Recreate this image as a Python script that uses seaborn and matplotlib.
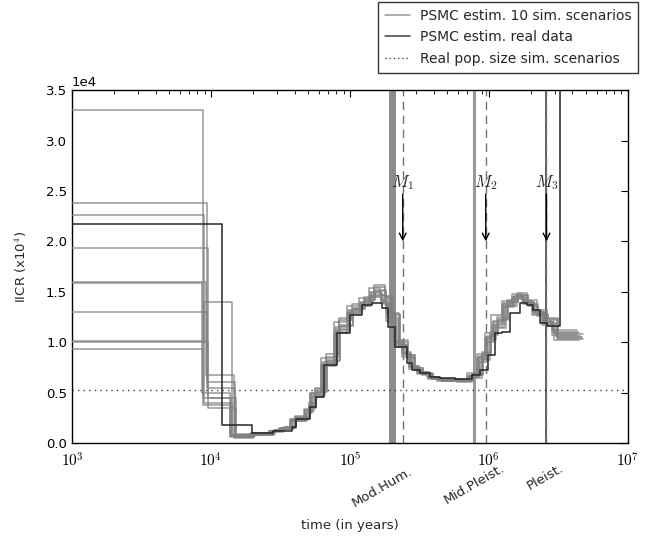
import numpy as np
import pandas as pd
import matplotlib
matplotlib.use("Agg")
import matplotlib.pyplot as plt
import seaborn as sns
from matplotlib.ticker import MultipleLocator, LogLocator, FuncFormatter, NullFormatter
from matplotlib.lines import Line2D
import matplotlib.transforms as mtransforms

# ---------------- data (IICR in units of 1e4) ----------------
sim_edges = [1000, 9057, 14390, 19720, 27470, 32420, 38900, 49100, 54200, 65000,
             80600, 100000, 122000, 144000, 173000, 191000, 218000, 249000, 279000,
             319000, 377000, 444000, 569000, 730000, 861000, 984000, 1100000,
             1300000, 1540000, 1820000, 2140000, 2530000, 2990000, 4520000]

# per-simulation time rescaling (PSMC scaling differs slightly between runs)
sim_time_scale = [0.97, 1.04, 0.99, 1.06, 1.01, 0.95, 1.03, 0.98, 1.05, 0.96]

sim01 = [3.30, 0.45, 0.07, 0.09, 0.12, 0.15, 0.24, 0.33, 0.50, 0.80, 1.15, 1.32, 1.40, 1.50, 1.42, 1.25, 1.00, 0.88, 0.75, 0.69, 0.64, 0.62, 0.62, 0.66, 0.85, 1.05, 1.20, 1.38, 1.45, 1.38, 1.28, 1.20, 1.10]
sim02 = [2.38, 0.55, 0.06, 0.08, 0.13, 0.16, 0.26, 0.38, 0.55, 0.85, 1.24, 1.38, 1.45, 1.57, 1.45, 1.29, 0.97, 0.85, 0.72, 0.67, 0.63, 0.61, 0.61, 0.68, 0.90, 1.10, 1.25, 1.42, 1.49, 1.42, 1.32, 1.22, 1.05]
sim03 = [2.26, 0.40, 0.08, 0.10, 0.12, 0.14, 0.22, 0.30, 0.46, 0.76, 1.10, 1.28, 1.36, 1.45, 1.40, 1.20, 0.95, 0.90, 0.76, 0.70, 0.65, 0.63, 0.62, 0.65, 0.80, 1.00, 1.15, 1.35, 1.44, 1.40, 1.30, 1.18, 1.02]
sim04 = [1.93, 0.35, 0.09, 0.10, 0.13, 0.15, 0.25, 0.36, 0.52, 0.82, 1.17, 1.34, 1.42, 1.52, 1.44, 1.27, 1.02, 0.87, 0.74, 0.68, 0.63, 0.62, 0.61, 0.67, 0.87, 1.07, 1.22, 1.40, 1.47, 1.36, 1.27, 1.24, 1.08]
sim05 = [1.60, 0.67, 0.05, 0.08, 0.11, 0.14, 0.23, 0.32, 0.48, 0.78, 1.12, 1.30, 1.38, 1.47, 1.38, 1.22, 0.98, 0.86, 0.73, 0.69, 0.64, 0.62, 0.62, 0.66, 0.83, 1.03, 1.18, 1.37, 1.46, 1.39, 1.29, 1.19, 1.06]
sim06 = [1.59, 0.50, 0.07, 0.09, 0.12, 0.15, 0.24, 0.34, 0.50, 0.84, 1.20, 1.36, 1.44, 1.54, 1.47, 1.30, 0.99, 0.89, 0.75, 0.70, 0.65, 0.63, 0.63, 0.69, 0.88, 1.09, 1.27, 1.41, 1.48, 1.41, 1.31, 1.21, 1.12]
sim07 = [1.30, 0.60, 0.06, 0.09, 0.13, 0.16, 0.27, 0.40, 0.54, 0.88, 1.22, 1.33, 1.41, 1.55, 1.43, 1.24, 0.96, 0.84, 0.72, 0.68, 0.63, 0.61, 0.60, 0.64, 0.82, 1.02, 1.14, 1.36, 1.43, 1.37, 1.26, 1.16, 1.04]
sim08 = [1.01, 1.40, 0.08, 0.10, 0.12, 0.15, 0.22, 0.31, 0.47, 0.79, 1.13, 1.31, 1.39, 1.49, 1.41, 1.26, 1.01, 0.88, 0.76, 0.70, 0.65, 0.63, 0.62, 0.67, 0.86, 1.06, 1.21, 1.39, 1.46, 1.40, 1.30, 1.20, 1.09]
sim09 = [1.00, 0.45, 0.07, 0.09, 0.13, 0.15, 0.25, 0.35, 0.51, 0.81, 1.16, 1.33, 1.43, 1.51, 1.46, 1.28, 1.00, 0.87, 0.74, 0.69, 0.64, 0.62, 0.62, 0.68, 0.89, 1.08, 1.23, 1.40, 1.47, 1.38, 1.28, 1.23, 1.03]
sim10 = [0.93, 0.38, 0.06, 0.08, 0.12, 0.14, 0.23, 0.33, 0.49, 0.77, 1.09, 1.29, 1.37, 1.46, 1.39, 1.21, 0.97, 0.85, 0.73, 0.68, 0.63, 0.61, 0.61, 0.65, 0.84, 1.04, 1.17, 1.36, 1.45, 1.39, 1.27, 1.17, 1.07]

real_edges = [1000, 12000, 19720, 27930, 38270, 40900, 51500, 56900, 65000, 80600,
              100000, 122000, 144000, 170000, 187600, 210700, 257000, 279000, 319000,
              377000, 444000, 569000, 755000, 861000, 984000, 1104000, 1241000,
              1417000, 1672000, 1877000, 2073000, 2329000, 2613000, 3243000, 6300000]
real_iicr = [2.17, 0.18, 0.10, 0.12, 0.16, 0.24, 0.36, 0.46, 0.77, 1.09, 1.27, 1.37,
             1.39, 1.34, 1.15, 0.95, 0.79, 0.72, 0.69, 0.65, 0.64, 0.63, 0.67, 0.72,
             0.87, 1.09, 1.10, 1.29, 1.39, 1.37, 1.32, 1.19, 1.16, 5.00]

real_pop_size = 0.525  # x 1e4

event_times = [2.0e5, 7.8e5, 2.6e6]
event_labels = ["Mod.Hum.", "Mid.Pleist.", "Pleist."]
m_times = [2.4e5, 9.5e5, 2.6e6]
m_labels = ["$M_1$", "$M_2$", "$M_3$"]

# ---------------- build tables ----------------
sims = [sim01, sim02, sim03, sim04, sim05, sim06, sim07, sim08, sim09, sim10]
rows = []
for i, vals in enumerate(sims):
    ys = list(vals) + [vals[-1]]
    xs = [sim_edges[0]] + [t * sim_time_scale[i] for t in sim_edges[1:]]
    for t, v in zip(xs, ys):
        rows.append({"series": i, "time": t, "iicr": v * 1e4})
df_sim = pd.DataFrame(rows)
df_real = pd.DataFrame({"time": real_edges,
                        "iicr": [v * 1e4 for v in real_iicr + [real_iicr[-1]]]})

# ---------------- style ----------------
sns.set_theme(style="white")
plt.rcParams["font.family"] = ["DejaVu Sans"]
plt.rcParams["mathtext.fontset"] = "cm"
plt.rcParams["axes.edgecolor"] = "black"
plt.rcParams["axes.linewidth"] = 1.0

fig = plt.figure(figsize=(6.5, 5.42), dpi=100)
ax = fig.add_axes([0.1108, 0.1827, 0.855, 0.651])
ax.set_xscale("log")

# event lines
ax.axvline(event_times[0], color="0.55", lw=5, zorder=1)
ax.axvline(event_times[1], color="0.6", lw=2.2, zorder=1)
ax.axvline(event_times[2], color="0.25", lw=1.2, zorder=1)
for t in m_times:
    ax.axvline(t, color="0.45", lw=1.0, ls=(0, (6, 4)), zorder=1)

ax.axhline(real_pop_size * 1e4, color="0.25", lw=1.0, ls=(0, (1, 3)), zorder=2)

sns.lineplot(data=df_sim, x="time", y="iicr", units="series", estimator=None,
             sort=False, color="0.5", lw=1.1, alpha=0.8, drawstyle="steps-post",
             legend=False, ax=ax, zorder=3)
sns.lineplot(data=df_real, x="time", y="iicr", estimator=None, sort=False,
             color="0.15", lw=1.1, drawstyle="steps-post", legend=False, ax=ax,
             zorder=4)

ax.set_xlim(1e3, 1e7)
ax.set_ylim(0, 3.5e4)

# M annotations
for t, lab in zip(m_times, m_labels):
    ax.text(t, 2.58e4, lab, ha="center", va="center", fontsize=12)
    ax.annotate("", xy=(t, 2.0e4), xytext=(t, 2.47e4),
                arrowprops=dict(arrowstyle="->", color="black", lw=1.0,
                                shrinkA=0, shrinkB=0))

# ticks
ax.yaxis.set_major_locator(MultipleLocator(5000))
ax.ticklabel_format(axis="y", style="sci", scilimits=(0, 0))
ax.xaxis.set_major_locator(LogLocator(base=10, numticks=10))
ax.xaxis.set_minor_locator(LogLocator(base=10, subs=np.arange(2, 10), numticks=20))
ax.xaxis.set_major_formatter(FuncFormatter(lambda v, p: r"$10^{%d}$" % round(np.log10(v))))
ax.xaxis.set_minor_formatter(NullFormatter())
ax.tick_params(which="both", direction="in", top=True, right=True, colors="black",
               labelsize=9.5)
ax.tick_params(which="major", length=5, width=0.8)
ax.tick_params(which="minor", length=3, width=0.6)
ax.tick_params(axis="x", which="major", pad=6, labelsize=11)
ax.yaxis.get_offset_text().set_fontsize(9.5)

for s in ax.spines.values():
    s.set_visible(True)
    s.set_color("black")

# event labels below axis
trans = mtransforms.blended_transform_factory(ax.transData, ax.transAxes)
label_x = [1.72e5, 7.8e5, 2.55e6]
label_y = [-0.125, -0.115, -0.095]
for x, y, lab in zip(label_x, label_y, event_labels):
    ax.text(x, y, lab, transform=trans, rotation=30, ha="center", va="center",
            fontsize=9.5)

ax.set_xlabel("time (in years)", fontsize=9.5)
ax.xaxis.set_label_coords(0.5, -0.215)
ax.set_ylabel("IICR (x10$^4$)", fontsize=9.5)
ax.yaxis.set_label_coords(-0.078, 0.5)

handles = [Line2D([], [], color="0.6", lw=1.1),
           Line2D([], [], color="0.25", lw=1.1),
           Line2D([], [], color="0.3", lw=1.0, ls=(0, (1, 2)))]
labels = ["PSMC estim. 10 sim. scenarios", "PSMC estim. real data",
          "Real pop. size sim. scenarios"]
leg = fig.legend(handles, labels, loc="upper right", bbox_to_anchor=(0.982, 0.997),
                 fontsize=10, frameon=True, fancybox=False, borderaxespad=0,
                 handlelength=1.8, handletextpad=0.7, borderpad=0.5,
                 labelspacing=0.55)
leg.get_frame().set_edgecolor("black")
leg.get_frame().set_linewidth(1.0)

fig.savefig("out.png", dpi=100, facecolor="white")
